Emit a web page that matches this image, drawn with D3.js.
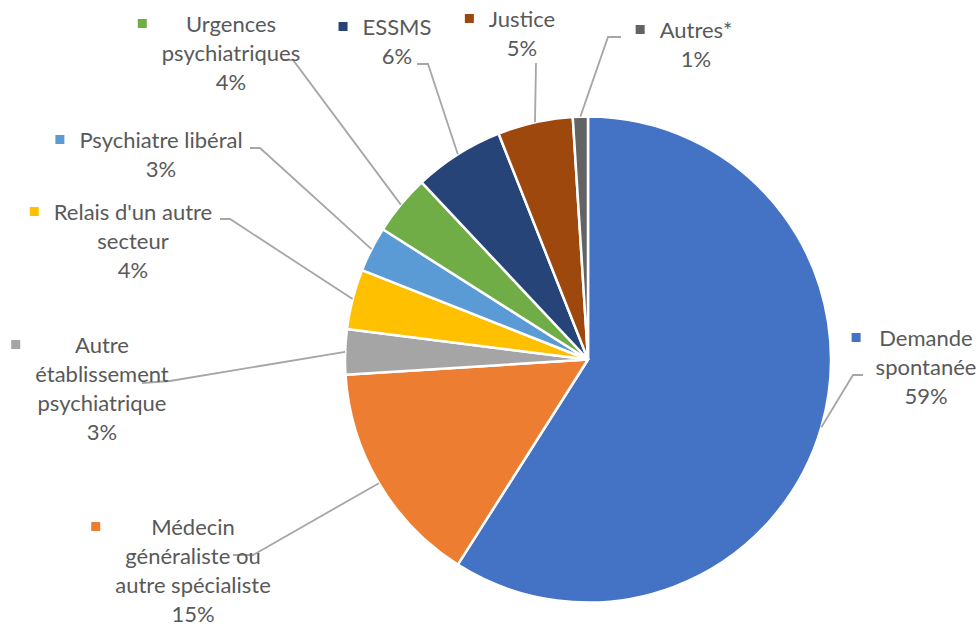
<!DOCTYPE html>
<html lang="fr">
<head>
<meta charset="utf-8">
<script src="https://cdn.jsdelivr.net/npm/d3@7"></script>
<style>
  html, body { margin: 0; padding: 0; background: #ffffff; }
  svg { display: block; }
  text { font-family: Lato, "Noto Sans", sans-serif; fill: #595959; }
</style>
</head>
<body>
<svg id="chart" width="978" height="628"></svg>
<script>
// Origine des demandes (part en %)
const categories = [
  "Demande spontanée",
  "Médecin généraliste ou autre spécialiste",
  "Autre établissement psychiatrique",
  "Relais d'un autre secteur",
  "Psychiatre libéral",
  "Urgences psychiatriques",
  "ESSMS",
  "Justice",
  "Autres*"
];
const values = [59, 15, 3, 4, 3, 4, 6, 5, 1];
const labelLines = [
  ["Demande", "spontanée"],
  ["Médecin", "généraliste ou", "autre spécialiste"],
  ["Autre", "établissement", "psychiatrique"],
  ["Relais d'un autre", "secteur"],
  ["Psychiatre libéral"],
  ["Urgences", "psychiatriques"],
  ["ESSMS"],
  ["Justice"],
  ["Autres*"]
];
const colors = ["#4472C4", "#ED7D31", "#A5A5A5", "#FFC000", "#5B9BD5",
                "#70AD47", "#264478", "#9E480E", "#636363"];

// Placement of each data label: text centre, first baseline, leader start and elbow
const labelLayout = [
  { cx: 926, y: 346, start: [863, 375], elbow: [853, 375] },
  { cx: 193, y: 535, start: [233, 555], elbow: [253, 555] },
  { cx: 102, y: 353, start: [142, 383], elbow: [170, 381] },
  { cx: 133, y: 220, start: [220, 219], elbow: [230, 219] },
  { cx: 161, y: 148, start: [250, 148], elbow: [260, 148] },
  { cx: 231, y: 32,  start: [283, 60],  elbow: [293, 60] },
  { cx: 397, y: 35,  start: [417, 64],  elbow: [428, 64] },
  { cx: 522, y: 27,  start: [536, 63],  elbow: [536, 63] },
  { cx: 696, y: 38,  start: [621, 37],  elbow: [608, 37] }
];

const svg = d3.select("#chart");
const cx = 588, cy = 359.5, radius = 243;
const lineHeight = 29;

const data = categories.map((c, i) => ({ name: c, value: values[i], i }));
const pie = d3.pie().value(d => d.value).sort(null);
const arcs = pie(data);
const arc = d3.arc().innerRadius(0).outerRadius(radius);

const g = svg.append("g").attr("transform", `translate(${cx},${cy})`);

g.selectAll("path.slice")
  .data(arcs)
  .join("path")
  .attr("class", "slice")
  .attr("d", arc)
  .attr("fill", d => colors[d.data.i])
  .attr("stroke", "#ffffff")
  .attr("stroke-width", 2.5)
  .attr("stroke-linejoin", "round");

// Leader lines from each label to the middle of its slice's rim
const leaders = svg.append("g")
  .attr("fill", "none")
  .attr("stroke", "#A6A6A6")
  .attr("stroke-width", 1.8);

arcs.forEach(a => {
  const L = labelLayout[a.data.i];
  const mid = (a.startAngle + a.endAngle) / 2;
  const ex = cx + radius * Math.sin(mid);
  const ey = cy - radius * Math.cos(mid);
  leaders.append("path")
    .attr("d", d3.line()([L.start, L.elbow, [ex, ey]]));
});

// Data labels: wrapped category name, percentage, and a colour key square
const fmt = v => d3.format(".0f")(v) + "%";
const total = d3.sum(values);
const labels = svg.append("g").attr("font-size", 22);

arcs.forEach(a => {
  const i = a.data.i;
  const L = labelLayout[i];
  const lines = labelLines[i].concat([fmt(a.data.value / total * 100)]);
  const grp = labels.append("g");
  const texts = grp.selectAll("text")
    .data(lines)
    .join("text")
    .attr("x", L.cx)
    .attr("y", (d, k) => L.y + k * lineHeight)
    .attr("text-anchor", "middle")
    .text(d => d);
  let left = Infinity;
  texts.each(function () {
    const w = this.getComputedTextLength();
    left = Math.min(left, L.cx - w / 2);
  });
  grp.append("rect")
    .attr("x", left - 15 - 9)
    .attr("y", L.y - 13)
    .attr("width", 9)
    .attr("height", 9)
    .attr("fill", colors[i]);
});
</script>
</body>
</html>
